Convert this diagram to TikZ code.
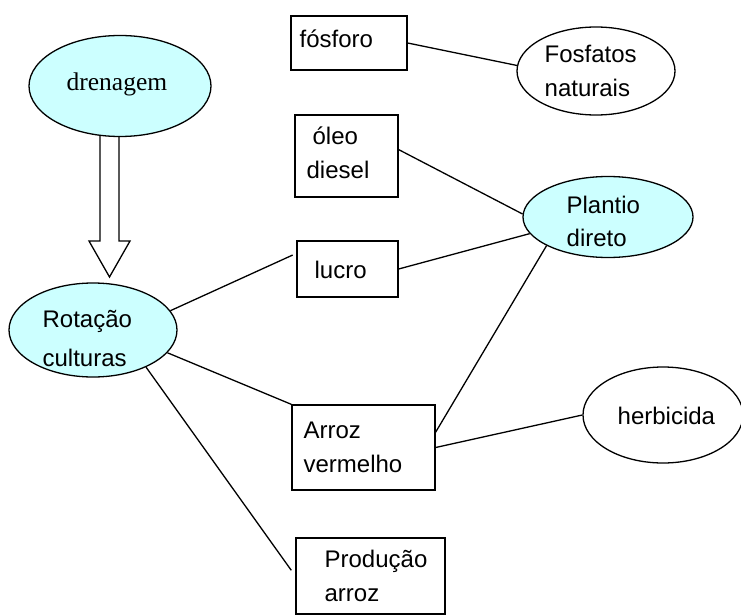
\documentclass[tikz,border=0pt]{standalone}
\usepackage{fontspec}
\setmainfont{Liberation Sans}
\newfontfamily\timesf{Liberation Serif}
\usetikzlibrary{shapes.geometric,calc}
\definecolor{lcyan}{HTML}{CCFFFF}
\begin{document}
\begin{tikzpicture}[x=1pt,y=-1pt,line width=1.3pt,
  box/.style={draw,rectangle,inner sep=0pt,fill=white},
  oval/.style={draw,ellipse,inner sep=0pt},
  txt/.style={anchor=base west,inner sep=0pt,font=\fontsize{24}{28}\selectfont},
  conn/.style={draw,line width=1.3pt}]
\useasboundingbox (0,0) rectangle (741,615);
% hollow arrow from drenagem to Rotacao
\draw[fill=white] (100,133) -- (100,241) -- (89,241) -- (109.5,277) -- (130,241) -- (119,241) -- (119,133);
% shapes
\node[box,minimum width=116pt,minimum height=54pt] (fos) at (349,43) {};
\node[oval,fill=white,minimum width=158pt,minimum height=88pt] (fosf) at (596,71) {};
\node[oval,fill=lcyan,minimum width=182pt,minimum height=101pt] (dren) at (120,86) {};
\node[box,minimum width=103pt,minimum height=82pt] (oleo) at (346.5,156) {};
\node[oval,fill=lcyan,minimum width=170pt,minimum height=81pt] (plant) at (608,217) {};
\node[box,minimum width=101pt,minimum height=56pt] (lucro) at (347.5,269) {};
\node[oval,fill=lcyan,minimum width=168pt,minimum height=94pt] (rot) at (93,330) {};
\node[box,minimum width=143pt,minimum height=85pt] (arroz) at (363.5,447.5) {};
\node[oval,fill=white,minimum width=160pt,minimum height=96pt] (herb) at (663,415) {};
\node[box,minimum width=149pt,minimum height=76pt] (prod) at (370.5,576) {};
% connectors
\draw[conn] (fos.east) -- (fosf.176);
\draw[conn] (oleo.7) -- (plant.178);
\draw[conn] (lucro.east) -- (plant.192);
\draw[conn] (arroz.12) -- (plant.205);
\draw[conn] (arroz.east) -- (herb.west);
\draw[conn,shorten >=4pt] (rot.14) -- (lucro.163);
\draw[conn] (rot.-17) -- (arroz.north west);
\draw[conn,shorten >=7pt] (rot.-35) -- (prod.west);
% texts
\node[txt] (t1) at (299,48) {fósforo};
\node[txt] (t2) at (544,63) {Fosfatos};
\node[txt] (t3) at (544,97) {naturais};
\node[txt,font=\timesf\fontsize{25.5}{28}\selectfont] (t4) at (66,91) {drenagem};
\node[txt] (t5) at (312,144) {óleo};
\node[txt] (t6) at (306,178) {diesel};
\node[txt] (t7) at (566,213) {Plantio};
\node[txt] (t8) at (566,246) {direto};
\node[txt] (t9) at (314,278) {lucro};
\node[txt] (t10) at (42,327) {Rotação};
\node[txt] (t11) at (42,366) {culturas};
\node[txt] (t12) at (303,438) {Arroz};
\node[txt] (t13) at (303,472) {vermelho};
\node[txt] (t14) at (617,424) {herbicida};
\node[txt] (t15) at (324,567) {Produção};
\node[txt] (t16) at (324,601) {arroz};
\end{tikzpicture}
\end{document}
